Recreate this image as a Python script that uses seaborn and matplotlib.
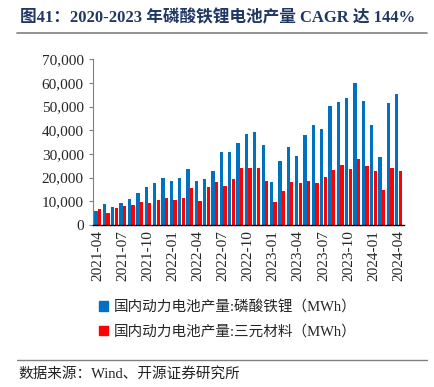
import matplotlib
matplotlib.use("Agg")
import matplotlib.pyplot as plt
import pandas as pd
import seaborn as sns
from matplotlib.lines import Line2D
from matplotlib.patches import Patch

months = pd.date_range("2021-04", "2024-04", freq="MS").strftime("%Y-%m").tolist()

lfp = [5.9, 8.7, 7.7, 9.2, 11.0, 13.4, 15.9, 17.7, 20.0, 18.7, 20.0, 23.7, 18.6,
       19.2, 22.8, 30.6, 30.7, 34.8, 38.6, 39.2, 33.8, 18.2, 26.8, 33.0, 29.3,
       37.9, 42.3, 40.6, 50.1, 52.0, 53.7, 59.9, 52.5, 42.4, 28.7, 51.5, 55.5]
ncm = [6.6, 4.9, 7.2, 7.9, 8.3, 9.6, 9.2, 10.3, 11.4, 10.7, 11.5, 15.5, 10.1,
       16.2, 18.2, 16.5, 19.2, 24.2, 24.2, 24.1, 18.5, 9.7, 14.4, 18.2, 17.5,
       18.6, 17.6, 20.4, 23.2, 25.4, 23.7, 27.9, 24.9, 22.8, 14.8, 24.2, 22.7]
lfp = [v * 1000 for v in lfp]
ncm = [v * 1000 for v in ncm]

label_lfp = "国内动力电池产量:磷酸铁锂（MWh）"
label_ncm = "国内动力电池产量:三元材料（MWh）"
colors = {label_lfp: "#0070C0", label_ncm: "#FF0000"}

df = pd.DataFrame({"month": months, label_lfp: lfp, label_ncm: ncm})
long_df = df.melt(id_vars="month", var_name="series", value_name="value")

sns.set_style("white")
plt.rcParams["font.family"] = ["Liberation Serif", "Noto Sans CJK SC"]

fig = plt.figure(figsize=(4.34, 3.87), dpi=100)
ax = fig.add_axes([0.214, 0.419, 0.716, 0.428])

sns.barplot(data=long_df, x="month", y="value", hue="series", palette=colors,
            width=0.86, gap=0.08, ax=ax, legend=False, saturation=1,
            linewidth=0)

ax.set_ylim(0, 70000)
ax.set_yticks(range(0, 70001, 10000))
ax.set_yticklabels([f"{v:,}" for v in range(0, 70001, 10000)], fontsize=11)
ax.set_xlim(-0.6, len(months) - 0.4)
ticks = list(range(0, len(months), 3))
ax.set_xticks(ticks)
ax.set_xticklabels([months[i] for i in ticks], rotation=90, fontsize=11)
ax.tick_params(axis="x", length=0, pad=4)
ax.tick_params(axis="y", length=3, direction="out", color="#808080", left=True)
ax.set_xticks([i + 1.5 for i in range(0, len(months) - 1, 3)], minor=True)
ax.tick_params(axis="x", which="minor", length=3, direction="in", color="#555555")
ax.set_xlabel("")
ax.set_ylabel("")
for s in ["top", "right"]:
    ax.spines[s].set_visible(False)
ax.spines["left"].set_color("#808080")
ax.spines["bottom"].set_color("#000000")
ax.spines["bottom"].set_linewidth(1.0)

handles = [Patch(color=colors[label_lfp], label=label_lfp),
           Patch(color=colors[label_ncm], label=label_ncm)]
fig.legend(handles=handles, loc="center", bbox_to_anchor=(0.525, 0.175),
           frameon=False, fontsize=10.5, handlelength=0.6, handleheight=0.6,
           handletextpad=0.4, labelspacing=0.7)

fig.text(0.046, 0.953, "图41：2020-2023 年磷酸铁锂电池产量 CAGR 达 144%",
         fontsize=12, fontweight="bold", color="#1F3864", va="center")
fig.add_artist(Line2D([0.04, 0.985], [0.915, 0.915], color="#808080", lw=1.2))
fig.add_artist(Line2D([0.04, 0.985], [0.07, 0.07], color="#808080", lw=1.0))
fig.text(0.042, 0.035, "数据来源：Wind、开源证券研究所", fontsize=10.5,
         color="#222222", va="center")

fig.savefig("out.png", dpi=100)
